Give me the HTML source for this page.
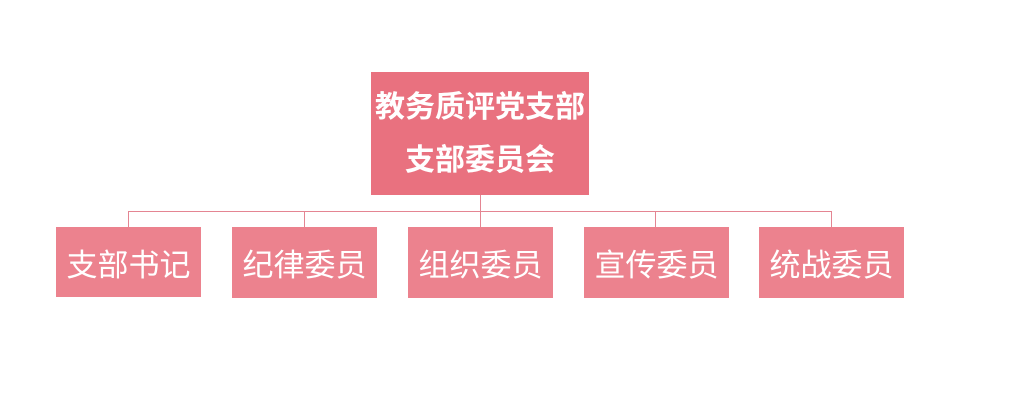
<!DOCTYPE html>
<html><head><meta charset="utf-8"><style>
body{margin:0;width:1019px;height:407px;background:#fff;position:relative;overflow:hidden;font-family:"Liberation Sans","Noto Sans CJK SC",sans-serif}
.b{position:absolute;display:flex;align-items:center;justify-content:center;color:#fff}
.top{left:371px;top:72px;width:218px;height:123px;background:#e9717f;flex-direction:column;font-weight:bold;font-size:30px;line-height:53px;white-space:nowrap}
.c{top:227px;width:145px;height:71px;background:#ec828e;font-size:31px}
.l{position:absolute;background:#e48592}
</style></head><body>
<div class="b top"><div>教务质评党支部</div><div>支部委员会</div></div>
<div class="l" style="left:480px;top:195px;width:1px;height:17px"></div>
<div class="l" style="left:128px;top:211px;width:704px;height:1px"></div>
<div class="l" style="left:128px;top:211px;width:1px;height:16px"></div>
<div class="l" style="left:304px;top:211px;width:1px;height:16px"></div>
<div class="l" style="left:480px;top:211px;width:1px;height:16px"></div>
<div class="l" style="left:655px;top:211px;width:1px;height:16px"></div>
<div class="l" style="left:831px;top:211px;width:1px;height:16px"></div>
<div class="b c" style="left:56px;height:70px">支部书记</div>
<div class="b c" style="left:232px">纪律委员</div>
<div class="b c" style="left:408px">组织委员</div>
<div class="b c" style="left:584px">宣传委员</div>
<div class="b c" style="left:759px">统战委员</div>
</body></html>
